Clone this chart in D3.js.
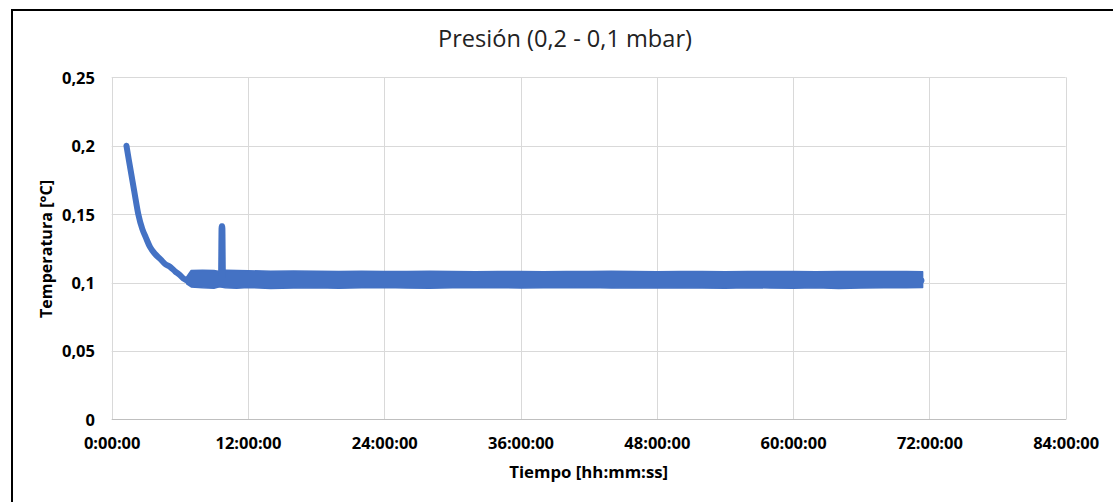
<!DOCTYPE html>
<html>
<head>
<meta charset="utf-8">
<script src="https://cdn.jsdelivr.net/npm/d3@7"></script>
<style>
  html, body { margin: 0; padding: 0; background: #fff; }
  svg { display: block; }
  text { font-family: "Open Sans", "Noto Sans", sans-serif; fill: #000; }
</style>
</head>
<body>
<svg id="chart" width="1113" height="502"></svg>
<script>
// ---------- data ----------
const chartTitle = "Presión (0,2 - 0,1 mbar)";
const xAxisTitle = "Tiempo [hh:mm:ss]";
const yAxisTitle = "Temperatura [°C]";

// x ticks in hours, and their labels
const xTickHours = [0, 12, 24, 36, 48, 60, 72, 84];
const xTickLabels = ["0:00:00", "12:00:00", "24:00:00", "36:00:00", "48:00:00", "60:00:00", "72:00:00", "84:00:00"];
const yTickValues = [0, 0.05, 0.1, 0.15, 0.2, 0.25];
const yTickLabels = ["0", "0,05", "0,1", "0,15", "0,2", "0,25"];

// main trace (hours, °C): cooling curve, the spike, then the plateau
const lineHours = [1.3, 1.5, 1.75, 2.0, 2.34, 2.7, 3.0, 3.37, 3.8, 4.3, 4.7, 5.13, 5.6, 6.0, 6.3, 6.7, 9.62, 9.68, 9.74, 9.8, 71.3];
const lineValues = [0.200, 0.190, 0.178, 0.166, 0.150, 0.139, 0.133, 0.126, 0.121, 0.117, 0.1135, 0.1115, 0.108, 0.1055, 0.103, 0.1015, 0.1015, 0.1412, 0.1412, 0.1015, 0.1015];

// noisy plateau envelope (hours, upper edge, lower edge)
const bandHours = [6.6, 7.0, 8.0, 9.0, 9.5, 10.0, 11.0, 12.0, 14.0, 16.0, 18.0, 20.0, 22.0, 24.0, 26.0, 28.0, 30.0, 32.0, 34.0, 36.0, 38.0, 40.0, 42.0, 44.0, 46.0, 48.0, 50.0, 52.0, 54.0, 56.0, 58.0, 60.0, 62.0, 64.0, 66.0, 68.0, 70.0, 71.4];
const bandHigh = [0.1040, 0.1088, 0.1090, 0.1088, 0.1080, 0.1089, 0.1088, 0.1086, 0.1083, 0.1084, 0.1082, 0.1080, 0.1082, 0.1081, 0.1080, 0.1082, 0.1080, 0.1079, 0.1081, 0.1080, 0.1079, 0.1081, 0.1080, 0.1082, 0.1080, 0.1079, 0.1080, 0.1081, 0.1079, 0.1080, 0.1081, 0.1080, 0.1079, 0.1081, 0.1080, 0.1081, 0.1080, 0.1078];
const bandLow = [0.0990, 0.0968, 0.0962, 0.0958, 0.0968, 0.0962, 0.0958, 0.0963, 0.0957, 0.0960, 0.0962, 0.0958, 0.0961, 0.0963, 0.0960, 0.0958, 0.0962, 0.0961, 0.0963, 0.0960, 0.0962, 0.0961, 0.0963, 0.0960, 0.0962, 0.0959, 0.0962, 0.0960, 0.0958, 0.0962, 0.0960, 0.0958, 0.0961, 0.0957, 0.0960, 0.0962, 0.0961, 0.0964];

// ---------- layout ----------
const W = 1113, H = 502;
const plot = { left: 111.7, right: 1065.7, top: 77.3, bottom: 419.3 };
const blue = "#4472C4";

const svg = d3.select("#chart");
svg.append("rect").attr("width", W).attr("height", H).attr("fill", "#fff");

const x = d3.scaleLinear().domain([0, 84]).range([plot.left, plot.right]);
const y = d3.scaleLinear().domain([0, 0.25]).range([plot.bottom, plot.top]);

// outer chart border (only left and top are inside the picture)
svg.append("rect").attr("x", 12).attr("y", 10).attr("width", 1300).attr("height", 700)
  .attr("fill", "none").attr("stroke", "#000").attr("stroke-width", 2);

// gridlines
const grid = svg.append("g");
grid.selectAll("line.h").data(yTickValues.filter(v => v > 0)).join("line")
  .attr("x1", plot.left).attr("x2", plot.right)
  .attr("y1", d => Math.round(y(d)) + 0.5).attr("y2", d => Math.round(y(d)) + 0.5)
  .attr("stroke", "#d9d9d9").attr("stroke-width", 1);
grid.selectAll("line.v").data(xTickHours).join("line")
  .attr("x1", d => Math.round(x(d)) + 0.5).attr("x2", d => Math.round(x(d)) + 0.5)
  .attr("y1", plot.top).attr("y2", plot.bottom)
  .attr("stroke", "#d9d9d9").attr("stroke-width", 1);
// bottom axis line
svg.append("line").attr("x1", plot.left).attr("x2", plot.right + 0.5)
  .attr("y1", Math.round(y(0)) + 0.5).attr("y2", Math.round(y(0)) + 0.5)
  .attr("stroke", "#bfbfbf").attr("stroke-width", 1.2);

// axes (labels only, via d3 axis)
const xAxis = d3.axisBottom(x).tickValues(xTickHours).tickSize(0).tickPadding(0)
  .tickFormat((d, i) => xTickLabels[i]);
const gx = svg.append("g").attr("transform", `translate(0,${plot.bottom})`).call(xAxis);
gx.select(".domain").remove();
gx.selectAll("text").attr("dy", null).attr("y", 30)
  .style("font-size", "16.5px").style("font-weight", "700").style("font-family", '"Open Sans", sans-serif');

const yAxis = d3.axisLeft(y).tickValues(yTickValues).tickSize(0).tickPadding(0)
  .tickFormat((d, i) => yTickLabels[i]);
const gy = svg.append("g").attr("transform", `translate(95,0)`).call(yAxis);
gy.select(".domain").remove();
gy.selectAll("text").attr("x", 0).attr("dy", "0.36em")
  .style("font-size", "16.5px").style("font-weight", "700").style("font-family", '"Open Sans", sans-serif');

// data: band + trace
const area = d3.area().x((d, i) => x(bandHours[i])).y0((d, i) => y(bandLow[i])).y1((d, i) => y(bandHigh[i]))
  .curve(d3.curveLinear);
svg.append("path").datum(bandHours).attr("d", area)
  .attr("fill", blue).attr("stroke", blue).attr("stroke-width", 1.5).attr("stroke-linejoin", "round");

const line = d3.line().x((d, i) => x(lineHours[i])).y((d, i) => y(lineValues[i])).curve(d3.curveMonotoneX);
svg.append("path").datum(lineHours).attr("d", line)
  .attr("fill", "none").attr("stroke", blue).attr("stroke-width", 6)
  .attr("stroke-linejoin", "round").attr("stroke-linecap", "round");

// titles
function fit(sel, target) {
  const n = sel.node();
  const fs = parseFloat(sel.style("font-size"));
  const len = n.getComputedTextLength();
  if (len > 0) sel.style("font-size", (fs * target / len).toFixed(2) + "px");
}
const t = svg.append("text").attr("x", 565).attr("y", 47).attr("text-anchor", "middle")
  .style("font-size", "22px").style("font-weight", "400").style("fill", "#222").text(chartTitle);
fit(t, 254);

const xt = svg.append("text").attr("x", (plot.left + plot.right) / 2).attr("y", 477.5).attr("text-anchor", "middle")
  .style("font-size", "17px").style("font-weight", "700").text(xAxisTitle);
fit(xt, 159);

const yt = svg.append("text").attr("transform", `translate(51.5,249) rotate(-90)`).attr("text-anchor", "middle")
  .style("font-size", "17px").style("font-weight", "700").text(yAxisTitle);
fit(yt, 138);
</script>
</body>
</html>
